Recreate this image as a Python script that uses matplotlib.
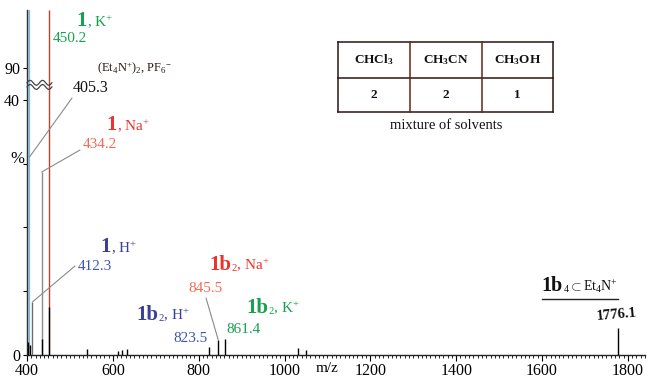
import numpy as np
import matplotlib
matplotlib.use("Agg")
import matplotlib.pyplot as plt
from matplotlib.lines import Line2D

# ---------------- data ----------------
peak_mz = [405.3, 450.2, 434.2, 412.3, 823.5, 845.5, 861.4, 1776.1]
peak_int = [100.0, 100.0, 28.7, 8.3, 1.3, 2.4, 2.5, 4.2]
base_mz = [402.0, 407.0, 434.2, 450.2, 540.0, 612.0, 622.0, 632.0, 1031.0, 1050.0]
base_int = [2.0, 1.5, 2.5, 7.5, 1.0, 0.6, 0.8, 0.9, 1.1, 0.8]
xticks = [400, 600, 800, 1000, 1200, 1400, 1600, 1800]
yticks = [0, 10, 20, 30, 40, 90]
ytick_labels = ["0", "", "", "", "40", "90"]
solvents = ["CHCl$_\\mathbf{3}$", "CH$_\\mathbf{3}$CN", "CH$_\\mathbf{3}$OH"]
ratios = ["2", "2", "1"]

W, H = 648, 379
plt.rcParams['font.family'] = ['Liberation Serif', 'DejaVu Serif']
plt.rcParams['mathtext.fontset'] = 'custom'
plt.rcParams['mathtext.rm'] = 'Liberation Serif'
plt.rcParams['mathtext.bf'] = 'Liberation Serif:bold'
plt.rcParams['mathtext.it'] = 'Liberation Serif:italic'

GREEN = '#17a04e'
RED = '#e8342c'
SALMON = '#f26a55'
BLUE = '#3b3f9c'
BLUE2 = '#3d55b2'
GREY = '#8a8a8a'

peak_colors = {405.3: '#8db5cf', 450.2: '#b8432d', 434.2: '#8c8c8c', 412.3: '#6e6e6e'}

fig = plt.figure(figsize=(W / 100, H / 100), dpi=100)
ax = fig.add_axes([27 / W, 24 / H, 618 / W, 345 / H])


def fwd(y):
    y = np.asarray(y, float)
    return np.where(y <= 40, y, np.where(y <= 90, 40 + (y - 40) * 0.1, 45 + (y - 90) * 0.91))


def inv(u):
    u = np.asarray(u, float)
    return np.where(u <= 40, u, np.where(u <= 45, 40 + (u - 40) / 0.1, 90 + (u - 45) / 0.91))


ax.set_yscale('function', functions=(fwd, inv))
ax.set_xlim(400, 1840)
ax.set_ylim(0, 100)

# peaks
for mz, it in zip(peak_mz, peak_int):
    ax.vlines(mz, 0, it, color=peak_colors.get(mz, 'black'),
              lw=1.6 if mz == 405.3 else 1.0, zorder=3)
ax.vlines(base_mz, 0, base_int, color='black', lw=1.0, zorder=4)

# axes styling
for s in ['top', 'right']:
    ax.spines[s].set_visible(False)
for s in ['left', 'bottom']:
    ax.spines[s].set_linewidth(1.0)
    ax.spines[s].set_color('#222222')
ax.set_xticks(xticks)
ax.set_xticklabels([str(t) for t in xticks], fontsize=11.5)
ax.set_xticks(np.arange(400, 1841, 10), minor=True)
ax.tick_params(axis='x', which='major', length=4, width=0.8, pad=2)
ax.tick_params(axis='x', which='minor', length=2, width=0.6)
ax.set_yticks(yticks)
ax.set_yticklabels(ytick_labels, fontsize=11.5)
ax.yaxis.set_minor_locator(matplotlib.ticker.NullLocator())
ax.tick_params(axis='y', which='major', length=3, width=0.8, pad=2)
ax.text(1100, -0.02, 'm/z', transform=ax.get_xaxis_transform(), ha='center', va='top', fontsize=11)

# axis break wave
xw = np.linspace(400, 458, 60)
for yc in (0.789, 0.777):
    ax.plot(xw, yc + 0.007 * np.sin((xw - 400) / 58 * 4 * np.pi),
            transform=ax.get_xaxis_transform(), color='#444444', lw=0.9, clip_on=False, zorder=6)


def ft(x, y, s, **kw):
    return fig.text(x / W, 1 - y / H, s, va='baseline', **kw)


fig.canvas.draw()
renderer = fig.canvas.get_renderer()


def label(x, y, bold, rest, color, bsize=15, rsize=11):
    t = ft(x, y, bold, color=color, fontsize=bsize, fontweight='bold')
    bb = t.get_window_extent(renderer)
    ft(bb.x1 + 0.5, y, rest, color=color, fontsize=rsize)


def leader(x, y, mz, it):
    ax.annotate("", xy=(mz, it), xycoords='data', xytext=(x, H - y), textcoords='figure pixels',
                arrowprops=dict(arrowstyle='-', color=GREY, lw=0.8, shrinkA=0, shrinkB=0))


# y-label
ft(10, 163, '%', fontsize=12)

# annotations
label(76, 26, '1', ', K$^{+}$', GREEN)
ft(53, 42, '450.2', color=GREEN, fontsize=11)

ft(97, 72, '(Et$_4$N$^{+}$)$_2$, PF$_6$$^{-}$', color='#2a1a14', fontsize=9)
ft(73, 92, '405.3', color='#111111', fontsize=11.5)
leader(72, 98, 405.3, 31.0)

label(106, 130, '1', ', Na$^{+}$', RED)
ft(83, 148, '434.2', color=SALMON, fontsize=11)
leader(80, 150, 434.2, 28.7)

label(100, 252, '1', ', H$^{+}$', BLUE)
ft(78, 270, '412.3', color=BLUE2, fontsize=11)
leader(75, 266, 412.3, 8.3)

label(209, 270, '1b', '${}_{2}$, Na$^{+}$', RED)
ft(188, 292, '845.5', color=SALMON, fontsize=11)
leader(206, 298, 845.5, 2.4)

label(136, 320, '1b', '${}_{2}$, H$^{+}$', BLUE)
ft(173, 342, '823.5', color=BLUE2, fontsize=11)

label(246, 313, '1b', '${}_{2}$, K$^{+}$', GREEN)
ft(226, 333, '861.4', color=GREEN, fontsize=11)

label(541, 291, '1b', r'${}_{4}$$\subset$Et$_4$N$^{+}$', '#111111', bsize=14.5, rsize=10)
fig.add_artist(Line2D([542 / W, 618 / W], [1 - 299 / H, 1 - 299 / H], color='#222222', lw=1.0))
ft(596, 320, '1776.1', color='#111111', fontsize=10.5, fontweight='bold', rotation=5)

# table
tl, tr, tt, tm, tb = 338, 553, 42, 78, 112
cols = [338, 410, 482, 553]
tcol = '#2a1612'
for yy in (tt, tm, tb):
    fig.add_artist(Line2D([tl / W, tr / W], [1 - yy / H, 1 - yy / H], color=tcol, lw=1.1))
for xx in cols:
    c = '#6b2318' if xx not in (tl, tr) else tcol
    fig.add_artist(Line2D([xx / W, xx / W], [1 - tt / H, 1 - tb / H], color=c, lw=1.1))
for i in range(3):
    cx = (cols[i] + cols[i + 1]) / 2
    fig.text(cx / W, 1 - (tt + tm) / 2 / H, solvents[i], ha='center', va='center',
             fontsize=9.5, fontweight='bold', color='#111111')
    fig.text(cx / W, 1 - (tm + tb) / 2 / H, ratios[i], ha='center', va='center',
             fontsize=9.5, fontweight='bold', color='#111111')
fig.text(446 / W, 1 - 129 / H, 'mixture of solvents', ha='center', va='baseline', fontsize=10.5, color='#111111')

fig.savefig('out.png', dpi=100)
